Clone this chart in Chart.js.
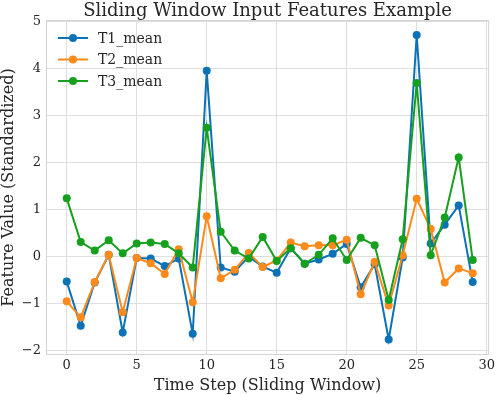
<!DOCTYPE html>
<html lang="en">
<head>
    <meta charset="UTF-8">
    <title>Sliding Window Input Features Example</title>
    <script src="https://cdn.jsdelivr.net/npm/chart.js@4.4.1/dist/chart.umd.min.js"></script>
    <style>
        html, body {
            margin: 0;
            padding: 0;
            background-color: #ffffff;
        }
        canvas {
            display: block;
        }
    </style>
</head>
<body>
    <canvas id="featChart" width="498" height="395"></canvas>

    <script>
        const timeSteps = [0, 1, 2, 3, 4, 5, 6, 7, 8, 9, 10, 11, 12, 13, 14, 15, 16, 17, 18, 19, 20, 21, 22, 23, 24, 25, 26, 27, 28, 29];
        const t1Mean = [-0.53, -1.47, -0.55, 0.04, -1.61, -0.03, -0.04, -0.20, -0.04, -1.64, 3.95, -0.23, -0.32, 0.00, -0.21, -0.34, 0.18, -0.15, -0.06, 0.06, 0.27, -0.65, -0.16, -1.76, -0.02, 4.71, 0.28, 0.68, 1.09, -0.54];
        const t2Mean = [-0.95, -1.29, -0.54, 0.04, -1.18, -0.03, -0.14, -0.37, 0.16, -0.97, 0.86, -0.46, -0.28, 0.08, -0.22, -0.08, 0.30, 0.22, 0.24, 0.24, 0.36, -0.80, -0.11, -1.04, 0.03, 1.23, 0.59, -0.55, -0.25, -0.35];
        const t3Mean = [1.24, 0.31, 0.13, 0.35, 0.07, 0.28, 0.30, 0.27, 0.07, -0.23, 2.74, 0.53, 0.13, -0.04, 0.42, -0.09, 0.18, -0.15, 0.04, 0.39, -0.07, 0.40, 0.24, -0.92, 0.37, 3.69, 0.03, 0.83, 2.11, -0.07];
        const seriesNames = ['T1_mean', 'T2_mean', 'T3_mean'];
        const xTickStep = 5;
        const yTickStep = 1;

        const colors = ['#0c72b6', '#fd8a1a', '#16a01e'];
        const serif = "'DejaVu Serif', serif";
        const textColor = '#262626';
        const gridColor = '#dedede';

        function toPoints(vals) {
            return vals.map((v, i) => ({x: timeSteps[i], y: v}));
        }

        function makeSet(name, vals, color, order) {
            return {
                label: name,
                data: toPoints(vals),
                borderColor: color,
                backgroundColor: color,
                pointBackgroundColor: color,
                pointBorderColor: color,
                borderWidth: 2,
                pointRadius: 4,
                pointBorderWidth: 0,
                tension: 0,
                order: order
            };
        }

        // light frame round the plot area, like the matplotlib axes box
        const frame = {
            id: 'frame',
            beforeDatasetsDraw(chart) {
                const a = chart.chartArea;
                const c = chart.ctx;
                c.save();
                c.strokeStyle = '#d4d4d4';
                c.lineWidth = 1;
                c.strokeRect(a.left + 0.5, a.top + 0.5, a.right - a.left - 1, a.bottom - a.top - 1);
                c.restore();
            }
        };

        // legend inside the axes, upper left, line + marker
        const innerLegend = {
            id: 'innerLegend',
            afterDatasetsDraw(chart) {
                const c = chart.ctx;
                c.save();
                chart.data.datasets.forEach((ds, i) => {
                    const y = 38 + i * 21.5;
                    c.strokeStyle = ds.borderColor;
                    c.lineWidth = 2;
                    c.beginPath();
                    c.moveTo(58, y);
                    c.lineTo(88, y);
                    c.stroke();
                    c.fillStyle = ds.borderColor;
                    c.beginPath();
                    c.arc(73, y, 4, 0, Math.PI * 2);
                    c.fill();
                    c.fillStyle = textColor;
                    c.font = '14px ' + serif;
                    c.textBaseline = 'middle';
                    c.textAlign = 'left';
                    c.fillText(ds.label, 98, y + 1);
                });
                c.restore();
            }
        };

        const ctx = document.getElementById('featChart').getContext('2d');

        const chart = new Chart(ctx, {
            type: 'line',
            data: {
                datasets: [
                    makeSet(seriesNames[0], t1Mean, colors[0], 3),
                    makeSet(seriesNames[1], t2Mean, colors[1], 2),
                    makeSet(seriesNames[2], t3Mean, colors[2], 1)
                ]
            },
            options: {
                responsive: false,
                animation: false,
                layout: {
                    padding: {left: 0, right: 7, top: 0, bottom: 0}
                },
                scales: {
                    x: {
                        type: 'linear',
                        min: -1.48,
                        max: 30.17,
                        afterFit(scale) { scale.height = 40; },
                        border: {display: false},
                        grid: {
                            color: gridColor,
                            lineWidth: 1,
                            drawTicks: false
                        },
                        ticks: {
                            stepSize: xTickStep,
                            includeBounds: false,
                            autoSkip: false,
                            maxRotation: 0,
                            padding: 3,
                            color: textColor,
                            font: {family: serif, size: 13}
                        },
                        title: {
                            display: true,
                            text: 'Time Step (Sliding Window)',
                            color: textColor,
                            font: {family: serif, size: 16, lineHeight: 1.1},
                            padding: {top: 3, bottom: 0}
                        }
                    },
                    y: {
                        type: 'linear',
                        min: -2.09,
                        max: 5.03,
                        afterFit(scale) { scale.width = 46; },
                        border: {display: false},
                        grid: {
                            color: gridColor,
                            lineWidth: 1,
                            drawTicks: false
                        },
                        ticks: {
                            stepSize: yTickStep,
                            includeBounds: false,
                            padding: 5,
                            color: textColor,
                            font: {family: serif, size: 13},
                            callback: (v) => (v < 0 ? '\u2212' + Math.abs(v) : String(v))
                        },
                        title: {
                            display: true,
                            text: 'Feature Value (Standardized)',
                            color: textColor,
                            font: {family: serif, size: 16, lineHeight: 1.1},
                            padding: {top: 0, bottom: 0}
                        }
                    }
                },
                plugins: {
                    legend: {display: false},
                    tooltip: {enabled: false},
                    title: {
                        display: true,
                        fullSize: false,
                        text: 'Sliding Window Input Features Example',
                        color: textColor,
                        font: {family: serif, size: 18, weight: 'normal', lineHeight: 1.0},
                        padding: {top: 2, bottom: 0}
                    }
                }
            },
            plugins: [frame, innerLegend]
        });
    </script>
</body>
</html>
